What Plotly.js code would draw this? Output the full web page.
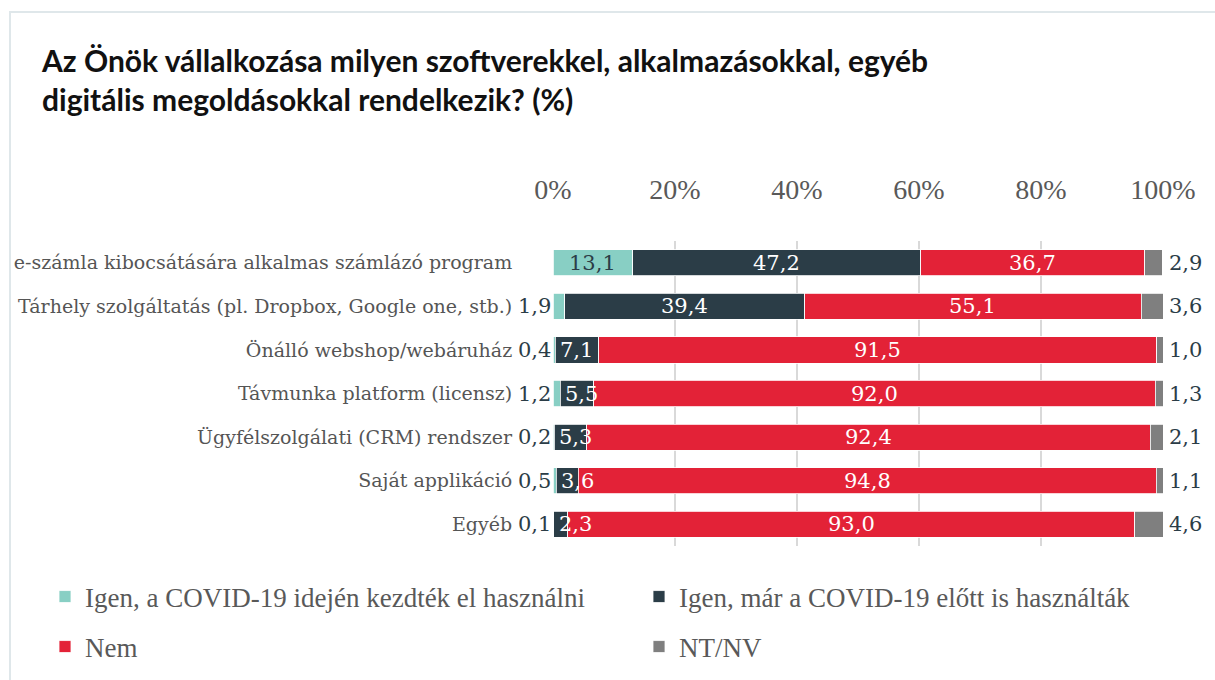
<!DOCTYPE html>
<html>
<head>
<meta charset="utf-8">
<script src="https://cdn.plot.ly/plotly-3.0.1.min.js"></script>
<style>
  html, body { margin: 0; padding: 0; background: #ffffff; }
  #frame { position: absolute; left: 9px; top: 11px; width: 1220px; height: 700px;
           border-left: 2px solid #dfe7ea; border-top: 2px solid #dfe7ea; }
  #chart { position: absolute; left: 0; top: 0; width: 1215px; height: 680px; }
</style>
</head>
<body>
<div id="frame"></div>
<div id="chart"></div>
<script>
const categories = [
  "e-számla kibocsátására alkalmas számlázó program",
  "Tárhely szolgáltatás (pl. Dropbox, Google one, stb.)",
  "Önálló webshop/webáruház",
  "Távmunka platform (licensz)",
  "Ügyfélszolgálati (CRM) rendszer",
  "Saját applikáció",
  "Egyéb"
];
const seriesNames = [
  "Igen, a COVID-19 idején kezdték el használni",
  "Igen, már a COVID-19 előtt is használták",
  "Nem",
  "NT/NV"
];
const covid  = [13.1, 1.9, 0.4, 1.2, 0.2, 0.5, 0.1];
const before = [47.2, 39.4, 7.1, 5.5, 5.3, 3.6, 2.3];
const nem    = [36.7, 55.1, 91.5, 92.0, 92.4, 94.8, 93.0];
const ntnv   = [2.9, 3.6, 1.0, 1.3, 2.1, 1.1, 4.6];
const tickVals = [0, 20, 40, 60, 80, 100];
const tickText = ["0%", "20%", "40%", "60%", "80%", "100%"];

const colors = ["#88cfc4", "#2b3d47", "#e32237", "#7f7f7f"];
const darkText = "#2b3d47";
const serif = "DejaVu Serif, serif";
const fmt = v => v.toFixed(1).replace(".", ",");

const seriesValues = [covid, before, nem, ntnv];
const legendIds = ["legend", "legend2", "legend3", "legend4"];
const traces = seriesValues.map((vals, i) => ({
  type: "bar",
  orientation: "h",
  name: seriesNames[i],
  y: categories,
  x: vals,
  width: 0.6,
  marker: { color: colors[i], line: { color: "#ffffff", width: 0.8 } },
  legend: legendIds[i],
  hoverinfo: "x+name"
}));

const annotations = [];
const lf = (c) => ({ family: serif, size: 21, color: c });
categories.forEach((cat, r) => {
  if (covid[r] >= 8) {
    annotations.push({ x: covid[r] / 2, y: cat, text: fmt(covid[r]), showarrow: false,
      font: lf(darkText), xanchor: "center", yanchor: "middle" });
  } else {
    annotations.push({ x: 0, y: cat, text: fmt(covid[r]), showarrow: false,
      font: lf(darkText), xanchor: "right", xshift: 0, yanchor: "middle" });
  }
  const s1 = covid[r];
  if (before[r] >= 10) {
    annotations.push({ x: s1 + before[r] / 2, y: cat, text: fmt(before[r]), showarrow: false,
      font: lf("#ffffff"), xanchor: "center", yanchor: "middle" });
  } else {
    annotations.push({ x: s1, y: cat, text: fmt(before[r]), showarrow: false,
      font: lf("#ffffff"), xanchor: "left", xshift: 3, yanchor: "middle" });
  }
  const s2 = covid[r] + before[r];
  annotations.push({ x: s2 + nem[r] / 2, y: cat, text: fmt(nem[r]), showarrow: false,
    font: lf("#ffffff"), xanchor: "center", yanchor: "middle" });
  annotations.push({ x: 100, y: cat, text: fmt(ntnv[r]), showarrow: false,
    font: lf(darkText), xanchor: "left", xshift: 4, yanchor: "middle" });
});

const legendFont = { family: "Liberation Serif, serif", size: 27, color: "#595959" };
const mkLegend = (px, py) => ({
  orientation: "h",
  xref: "container", yref: "container",
  x: px / 1215, xanchor: "left",
  y: 1 - py / 680, yanchor: "middle",
  font: legendFont,
  bgcolor: "rgba(0,0,0,0)"
});

const layout = {
  width: 1215,
  height: 680,
  paper_bgcolor: "rgba(0,0,0,0)",
  plot_bgcolor: "rgba(0,0,0,0)",
  barmode: "stack",
  margin: { l: 553, r: 52, t: 241, b: 134, pad: 0 },
  title: {
    text: "<b>Az Önök vállalkozása milyen szoftverekkel, alkalmazásokkal, egyéb<br>digitális megoldásokkal rendelkezik? (%)</b>",
    font: { family: "Lato, Noto Sans, sans-serif", size: 30, color: "#111111" },
    xref: "container", yref: "container",
    x: 42 / 1215, xanchor: "left",
    y: 1 - 72 / 680, yanchor: "top"
  },
  xaxis: {
    side: "top",
    range: [0, 100],
    tickvals: tickVals,
    ticktext: tickText,
    showgrid: true,
    gridcolor: "#d9d9d9",
    gridwidth: 2,
    zeroline: false,
    showline: false,
    ticks: "outside",
    ticklen: 30,
    tickcolor: "rgba(0,0,0,0)",
    tickfont: { family: "Liberation Serif, serif", size: 28, color: "#595959" },
    fixedrange: true
  },
  yaxis: {
    autorange: "reversed",
    showgrid: false,
    zeroline: false,
    showline: false,
    ticks: "outside",
    ticklen: 36,
    tickcolor: "rgba(0,0,0,0)",
    tickfont: { family: serif, size: 19, color: "#555555" },
    fixedrange: true
  },
  showlegend: true,
  legend: mkLegend(45, 597),
  legend2: mkLegend(639, 597),
  legend3: mkLegend(45, 647),
  legend4: mkLegend(639, 647),
  annotations: annotations,
  hovermode: "closest"
};

Plotly.newPlot("chart", traces, layout, { displayModeBar: false });
</script>
</body>
</html>
